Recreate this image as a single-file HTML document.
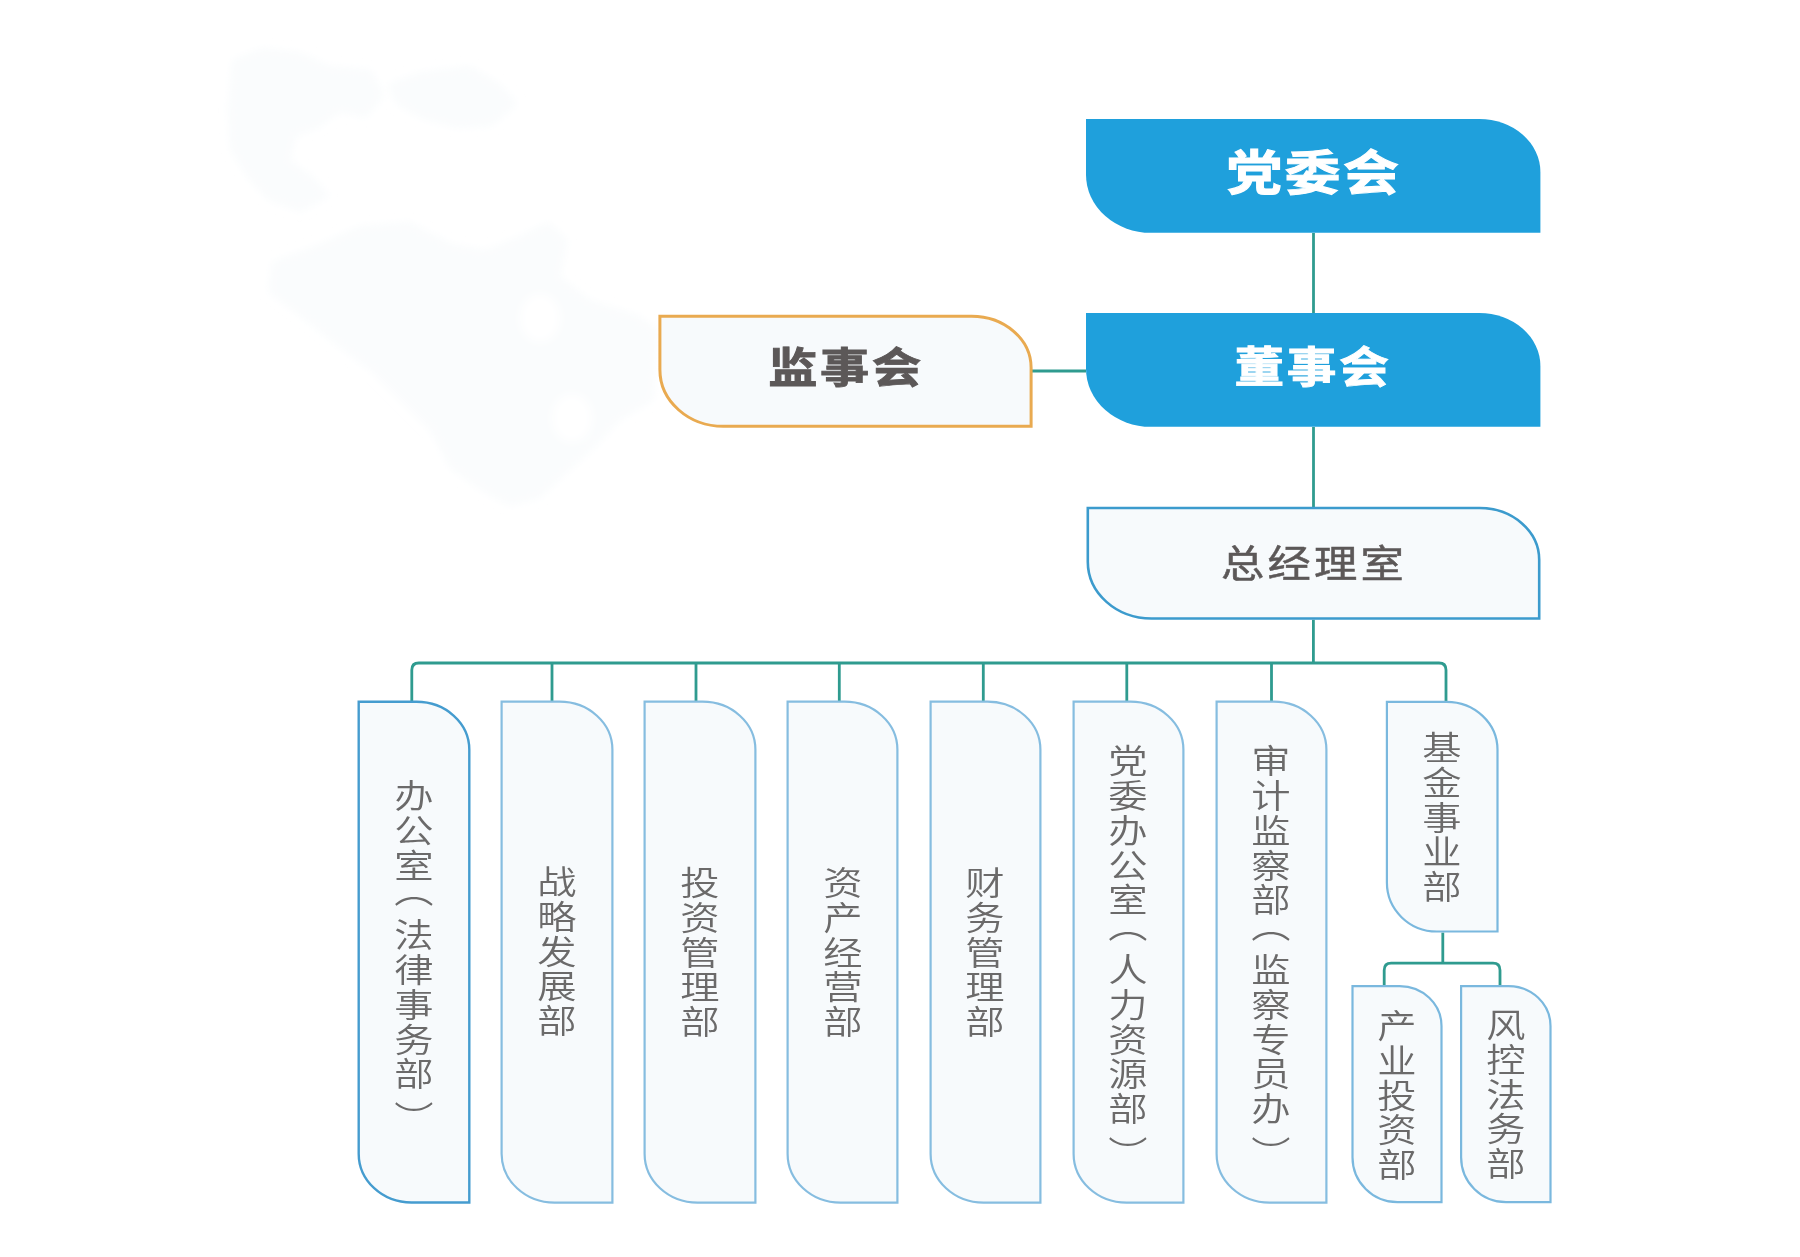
<!DOCTYPE html>
<html lang="zh-CN"><head><meta charset="utf-8"><title>组织架构</title>
<style>
*{margin:0;padding:0;box-sizing:border-box}
html,body{width:1800px;height:1257px;background:#fff;overflow:hidden}
body{position:relative;font-family:"Liberation Sans","Noto Sans CJK SC",sans-serif}
.bx{position:absolute}
.t{position:absolute;white-space:nowrap;line-height:1;transform-origin:50% 50%}
.h{transform:translate(-50%,-50%) scaleX(1.12)}
.v{writing-mode:vertical-rl;font-weight:350;color:#6b6a6a;font-size:33px;letter-spacing:1.8px;transform:translate(-50%,-50%) scaleX(1.19)}
.v i{font-style:normal;position:relative}
svg{position:absolute;left:0;top:0}
</style></head>
<body>
<div id="chart" style="position:absolute;left:0;top:0;width:1800px;height:1257px;filter:blur(0.5px)">
<svg width="1800" height="1257" viewBox="0 0 1800 1257">
<defs><filter id="sf" x="-10%" y="-10%" width="120%" height="120%"><feGaussianBlur stdDeviation="4"/></filter></defs>
<g fill="#fafcfd" filter="url(#sf)">
<path d="M232 60L262 48L300 52L330 66L372 70L384 96L366 118L340 112L318 128L296 136L290 160L312 176L330 196L300 212L268 200L248 178L230 150L228 110Z"/>
<path d="M388 84L420 72L470 66L500 84L518 104L492 126L456 128L420 118L396 104Z"/>
<path d="M272 262L320 244L360 226L410 222L452 244L486 250L520 236L548 222L568 240L560 276L590 300L640 316L658 330L654 400L620 420L596 446L570 470L540 498L510 506L480 490L450 468L430 430L400 400L372 372L330 340L300 316L268 292Z"/>
</g>
<g fill="#fff" filter="url(#sf)"><ellipse cx="540" cy="318" rx="20" ry="24"/><ellipse cx="572" cy="418" rx="20" ry="24"/></g></svg>
<svg width="1800" height="1257" viewBox="0 0 1800 1257" fill="none" stroke="#2f9b8f" stroke-width="2.8">
<path d="M1313.5 233V313"/>
<path d="M1313.5 427V507"/>
<path d="M1032 371H1086"/>
<path d="M1313.4 619.8V663"/>
<path d="M411.8 701V670Q411.8 663 418.8 663H1439Q1446 663 1446 670V701"/>
<path d="M552 663V701M696 663V701M839.3 663V701M983.3 663V701M1126.8 663V701M1271.5 663V701"/>
<path d="M1442.8 932.6V963.2"/>
<path d="M1384.2 985V970.2Q1384.2 963.2 1391.2 963.2H1493Q1500 963.2 1500 970.2V985"/>
</svg>
<svg width="1800" height="1257" viewBox="0 0 1800 1257">
<path d="M1086.00 119.00H1479.40A61.00 53.00 0 0 1 1540.40 172.00V232.80H1151.00A65.00 58.00 0 0 1 1086.00 174.80Z" fill="#1fa0dc"/>
<path d="M1086.00 313.00H1479.40A61.00 53.00 0 0 1 1540.40 366.00V426.80H1151.00A65.00 58.00 0 0 1 1086.00 368.80Z" fill="#1fa0dc"/>
<path d="M659.90 316.20H971.60A59.50 51.50 0 0 1 1031.10 367.70V426.30H723.40A63.50 56.50 0 0 1 659.90 369.80Z" fill="#f7fafc" stroke="#e9aa50" stroke-width="3"/>
<path d="M1087.80 508.00H1479.50A59.70 51.70 0 0 1 1539.20 559.70V618.50H1151.50A63.70 56.70 0 0 1 1087.80 561.80Z" fill="#f7fafc" stroke="#3c9bcd" stroke-width="2.6"/>
<path d="M358.70 701.80H416.50A52.80 47.80 0 0 1 469.30 749.60V1202.50H411.50A52.80 48.80 0 0 1 358.70 1153.70Z" fill="#f7fafc" stroke="#459ccf" stroke-width="2.4"/>
<path d="M501.60 701.70H559.50A52.90 47.90 0 0 1 612.40 749.60V1202.60H554.50A52.90 48.90 0 0 1 501.60 1153.70Z" fill="#f7fafc" stroke="#86bde0" stroke-width="2.2"/>
<path d="M644.60 701.70H702.50A52.90 47.90 0 0 1 755.40 749.60V1202.60H697.50A52.90 48.90 0 0 1 644.60 1153.70Z" fill="#f7fafc" stroke="#86bde0" stroke-width="2.2"/>
<path d="M787.60 701.70H844.50A52.90 47.90 0 0 1 897.40 749.60V1202.60H840.50A52.90 48.90 0 0 1 787.60 1153.70Z" fill="#f7fafc" stroke="#86bde0" stroke-width="2.2"/>
<path d="M930.60 701.70H987.50A52.90 47.90 0 0 1 1040.40 749.60V1202.60H983.50A52.90 48.90 0 0 1 930.60 1153.70Z" fill="#f7fafc" stroke="#86bde0" stroke-width="2.2"/>
<path d="M1073.60 701.70H1130.50A52.90 47.90 0 0 1 1183.40 749.60V1202.60H1126.50A52.90 48.90 0 0 1 1073.60 1153.70Z" fill="#f7fafc" stroke="#86bde0" stroke-width="2.2"/>
<path d="M1216.60 701.70H1273.50A52.90 47.90 0 0 1 1326.40 749.60V1202.60H1269.50A52.90 48.90 0 0 1 1216.60 1153.70Z" fill="#f7fafc" stroke="#86bde0" stroke-width="2.2"/>
<path d="M1386.90 701.80H1446.60A50.90 47.90 0 0 1 1497.50 749.70V931.50H1436.80A49.90 48.90 0 0 1 1386.90 882.60Z" fill="#f7fafc" stroke="#7ab8de" stroke-width="2.2"/>
<path d="M1352.50 986.10H1399.60A41.90 39.90 0 0 1 1441.50 1026.00V1202.20H1397.40A44.90 44.90 0 0 1 1352.50 1157.30Z" fill="#f7fafc" stroke="#7ab8de" stroke-width="2.2"/>
<path d="M1461.10 986.10H1508.60A41.90 39.90 0 0 1 1550.50 1026.00V1202.20H1506.00A44.90 44.90 0 0 1 1461.10 1157.30Z" fill="#f7fafc" stroke="#7ab8de" stroke-width="2.2"/>
</svg>
<div class="t h" style="left:1314.2px;top:174px;font-size:48px;font-weight:700;color:#fff;letter-spacing:2.3px;-webkit-text-stroke:1.0px #fff;transform:translate(-50%,-50%) scaleX(1.16)">党委会</div>
<div class="t h" style="left:1312.8px;top:367.6px;font-size:43px;font-weight:700;color:#fff;letter-spacing:2.3px;-webkit-text-stroke:0.9px #fff;transform:translate(-50%,-50%) scaleX(1.155)">董事会</div>
<div class="t h" style="left:845.6px;top:369.0px;font-size:42px;font-weight:700;color:#5c5858;letter-spacing:2.3px;-webkit-text-stroke:0.9px #5c5858;transform:translate(-50%,-50%) scaleX(1.17)">监事会</div>
<div class="t h" style="left:1314.2px;top:563.6px;font-size:38px;font-weight:400;color:#5c5858;letter-spacing:2.8px;-webkit-text-stroke:0.5px #5c5858;transform:translate(-50%,-50%) scaleX(1.14)">总经理室</div>
<div class="t v" style="left:411.3px;top:953px;">办公室<i style="top:-9.5px">（</i>法律事务部<i style="top:8.5px">）</i></div>
<div class="t v" style="left:554.0px;top:952.4px;">战略发展部</div>
<div class="t v" style="left:696.5px;top:952.5px;">投资管理部</div>
<div class="t v" style="left:839.9px;top:952.5px;">资产经营部</div>
<div class="t v" style="left:981.8px;top:952.5px;">财务管理部</div>
<div class="t v" style="left:1125.1px;top:953.2px;">党委办公室<i style="top:-9.5px">（</i>人力资源部<i style="top:8.5px">）</i></div>
<div class="t v" style="left:1267.7px;top:953.2px;">审计监察部<i style="top:-9.5px">（</i>监察专员办<i style="top:8.5px">）</i></div>
<div class="t v" style="left:1439.3999999999999px;top:818.2px;">基金事业部</div>
<div class="t v" style="left:1394.3999999999999px;top:1095.7px;">产业投资部</div>
<div class="t v" style="left:1503.3px;top:1095.3px;">风控法务部</div>
</div>
</body></html>
